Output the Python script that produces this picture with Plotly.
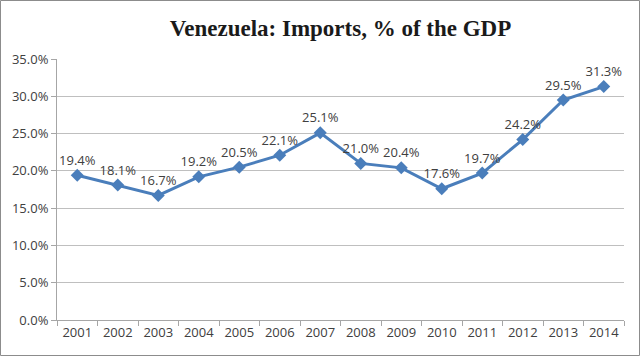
import plotly.graph_objects as go

years = ["2001","2002","2003","2004","2005","2006","2007","2008","2009","2010","2011","2012","2013","2014"]
imports_pct = [19.4, 18.1, 16.7, 19.2, 20.5, 22.1, 25.1, 21.0, 20.4, 17.6, 19.7, 24.2, 29.5, 31.3]
title_text = "Venezuela: Imports, % of the GDP"

W, H = 640, 356
L, R, T, B = 57, 16, 59, 36
pw, ph = W - L - R, H - T - B

fig = go.Figure()
fig.add_trace(go.Scatter(
    x=years, y=imports_pct,
    mode="lines+markers+text",
    line=dict(color="#4A7EBB", width=3),
    marker=dict(symbol="diamond", size=10, color="#4A7EBB"),
    text=[f"{v:.1f}%" for v in imports_pct],
    textposition="top center",
    textfont=dict(family="Open Sans", size=13, color="#404040"),
    cliponaxis=False,
    hoverinfo="skip",
))

fig.update_layout(
    width=W, height=H,
    margin=dict(l=L, r=R, t=T, b=B, autoexpand=False),
    paper_bgcolor="white", plot_bgcolor="white",
    showlegend=False,
    font=dict(family="Open Sans", size=13, color="#404040"),
    title=dict(text=f"<b>{title_text}</b>", x=0.5, xref="paper", xanchor="center",
               y=1 - 28 / H, yanchor="middle",
               font=dict(family="Liberation Serif", size=23, color="#1a1a1a")),
    xaxis=dict(type="category", range=[-0.5, len(years) - 0.5],
               tickson="boundaries", ticks="outside", ticklen=5,
               tickangle=0, automargin=False,
               tickcolor="#A6A6A6", showline=True, linecolor="#A6A6A6", linewidth=1,
               showgrid=False, tickfont=dict(size=13, color="#404040"), fixedrange=True),
    yaxis=dict(range=[0, 35], dtick=5, tickformat=".1f", ticksuffix="%",
               ticks="outside", ticklen=5, tickcolor="#A6A6A6", automargin=False,
               showline=True, linecolor="#A6A6A6", linewidth=1,
               showgrid=True, gridcolor="#BFBFBF", gridwidth=1, zeroline=False,
               tickfont=dict(size=13, color="#404040"), fixedrange=True),
    shapes=[dict(type="rect", xref="paper", yref="paper",
                 x0=(0.5 - L) / pw, x1=(W - 0.5 - L) / pw,
                 y0=-(B - 0.5) / ph, y1=1 + (T - 0.5) / ph,
                 line=dict(color="#8C8C8C", width=1), layer="above")],
)

fig.write_html("out.html", config={"displayModeBar": False, "staticPlot": True},
               post_script="document.body.style.margin='0';document.body.style.overflow='hidden';")
